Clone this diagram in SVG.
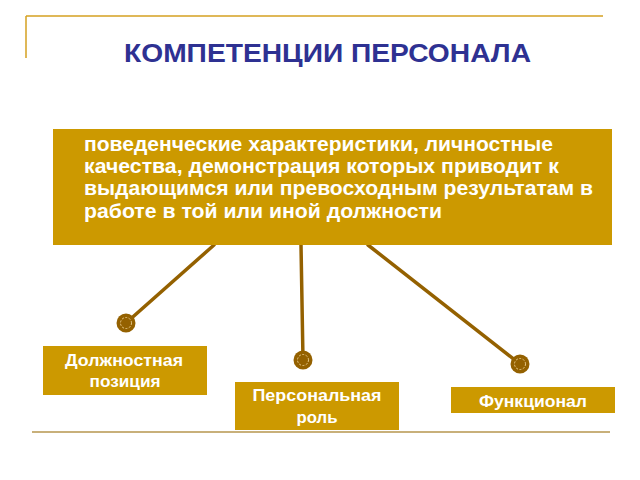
<svg xmlns="http://www.w3.org/2000/svg" width="640" height="480" viewBox="0 0 640 480">
<style>
.box{fill:#CC9900;}
.wt{fill:#FFFFFF;font-family:"Liberation Sans",Arial,sans-serif;font-weight:bold;}
.lbl{font-size:17px;text-anchor:middle;}
.conn{stroke:#946100;stroke-width:3.5;fill:none;stroke-linecap:round;}
.dot{fill:#946100;}
.ring{fill:none;stroke:#E8C98A;stroke-width:1;stroke-dasharray:2 1.5;}
.rule{stroke:#D4A020;stroke-width:1.5;fill:none;}
</style>
<rect width="640" height="480" fill="#FFFFFF"/>
<g id="frame">
<line class="rule" x1="26" y1="16" x2="603" y2="16"/>
<line class="rule" x1="26" y1="16" x2="26" y2="58"/>
<line x1="32" y1="432" x2="610" y2="432" stroke="#C8B07A" stroke-width="2"/>
</g>
<g id="title">
<text x="124" y="62" textLength="407" lengthAdjust="spacingAndGlyphs" font-family="'Liberation Sans',Arial,sans-serif" font-weight="bold" font-size="26" fill="#2E3192">КОМПЕТЕНЦИИ ПЕРСОНАЛА</text>
</g>
<g id="connectors">
<line class="conn" x1="214" y1="245" x2="126" y2="323"/>
<line class="conn" x1="301" y1="245" x2="303" y2="360"/>
<line class="conn" x1="368" y1="245" x2="520" y2="364"/>
<circle class="dot" cx="126" cy="323" r="9.5"/>
<circle class="ring" cx="126" cy="323" r="5.5"/>
<circle class="dot" cx="303" cy="360" r="9.5"/>
<circle class="ring" cx="303" cy="360" r="5.5"/>
<circle class="dot" cx="520" cy="364" r="9.5"/>
<circle class="ring" cx="520" cy="364" r="5.5"/>
</g>
<g id="main">
<rect class="box" x="53" y="129" width="559" height="116"/>
<text class="wt" font-size="21" x="84" y="151" textLength="469" lengthAdjust="spacingAndGlyphs">поведенческие характеристики, личностные</text>
<text class="wt" font-size="21" x="84" y="173" textLength="475" lengthAdjust="spacingAndGlyphs">качества, демонстрация которых приводит к</text>
<text class="wt" font-size="21" x="84" y="195" textLength="509" lengthAdjust="spacingAndGlyphs">выдающимся или превосходным результатам в</text>
<text class="wt" font-size="21" x="84" y="218" textLength="358" lengthAdjust="spacingAndGlyphs">работе в той или иной должности</text>
</g>
<g id="node1">
<rect class="box" x="43" y="346" width="164" height="49"/>
<text class="wt lbl" x="124" y="366" textLength="118" lengthAdjust="spacingAndGlyphs">Должностная</text>
<text class="wt lbl" x="125" y="387" textLength="71" lengthAdjust="spacingAndGlyphs">позиция</text>
</g>
<g id="node2">
<rect class="box" x="235" y="382" width="164" height="48"/>
<text class="wt lbl" x="317" y="401" textLength="129" lengthAdjust="spacingAndGlyphs">Персональная</text>
<text class="wt lbl" x="317" y="423" textLength="41" lengthAdjust="spacingAndGlyphs">роль</text>
</g>
<g id="node3">
<rect class="box" x="451" y="387" width="164" height="26"/>
<text class="wt lbl" x="533" y="407" textLength="108" lengthAdjust="spacingAndGlyphs">Функционал</text>
</g>
</svg>
